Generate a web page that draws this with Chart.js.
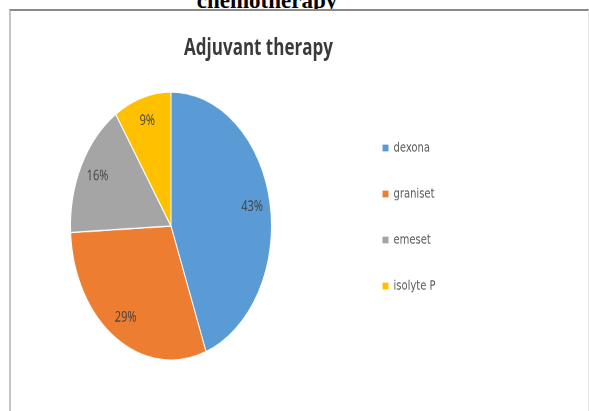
<!DOCTYPE html>
<html>
<head>
<meta charset="utf-8">
<script src="https://cdn.jsdelivr.net/npm/chart.js@4.4.0/dist/chart.umd.min.js"></script>
<style>
    html, body { margin: 0; padding: 0; background: #fff; }
    body { width: 589px; height: 411px; position: relative; overflow: hidden; }
    #heading {
        position: absolute; left: 0; top: -11px; width: 534px;
        text-align: center; font: bold 23px "Liberation Serif", serif;
        line-height: 23px; color: #000;
    }
    #box {
        position: absolute; left: 9px; top: 9px; width: 577px; height: 402px;
        border-top: 2px solid #8a8a8a; border-left: 2px solid #c4c4c4;
        border-right: 1px solid #e8e8e8; background: #fff; overflow: hidden;
    }
    /* the source picture is stretched vertically, so draw flat and scale */
    #stretch {
        position: absolute; left: 0; top: 0; width: 577px; height: 300px;
        transform: scale(1, 1.3333); transform-origin: 0 0;
    }
    #title {
        position: absolute; left: 0; top: 18px; width: 495px;
        text-align: center; font: bold 17px "Open Sans", sans-serif;
        line-height: 17px; color: #3a3a3a;
    }
    /* canvas starts a little left of the box so the pie sits where it should */
    #chartWrap { position: absolute; left: -27px; top: 0; width: 604px; height: 300px; }
</style>
</head>
<body>
<div id="heading">chemotherapy</div>
<div id="box">
    <div id="stretch">
        <div id="title">Adjuvant therapy</div>
        <div id="chartWrap"><canvas id="pieChart"></canvas></div>
    </div>
</div>
<script>
// Chart data
const categories = ['dexona', 'graniset', 'emeset', 'isolyte P'];
const shares = [43, 29, 16, 9];
const sliceColours = ['#5B9BD5', '#ED7D31', '#A5A5A5', '#FFC000'];

// Percent labels inside the slices
const sliceLabels = {
    id: 'sliceLabels',
    afterDatasetsDraw(chart) {
        const ctx = chart.ctx;
        const meta = chart.getDatasetMeta(0);
        ctx.save();
        ctx.font = '11px "Open Sans", sans-serif';
        ctx.fillStyle = '#404040';
        ctx.textAlign = 'center';
        ctx.textBaseline = 'middle';
        meta.data.forEach((arc, i) => {
            const p = arc.getProps(['x', 'y', 'startAngle', 'endAngle', 'outerRadius'], true);
            const mid = (p.startAngle + p.endAngle) / 2;
            const r = p.outerRadius * 0.82;
            ctx.fillText(shares[i] + '%', p.x + Math.cos(mid) * r, p.y + Math.sin(mid) * r);
        });
        ctx.restore();
    }
};

document.addEventListener('DOMContentLoaded', function() {
    const ctx = document.getElementById('pieChart').getContext('2d');
    new Chart(ctx, {
        type: 'pie',
        data: {
            labels: categories,
            datasets: [{
                data: shares,
                backgroundColor: sliceColours,
                borderColor: '#ffffff',
                borderWidth: 1,
                radius: 100.5,
                clip: false
            }]
        },
        options: {
            responsive: true,
            maintainAspectRatio: false,
            animation: false,
            devicePixelRatio: 2,
            layout: {
                padding: { left: 0, right: 150, top: 73.3, bottom: 50.7 }
            },
            plugins: {
                title: { display: false },
                tooltip: { enabled: false },
                legend: {
                    position: 'right',
                    align: 'start',
                    maxWidth: 80,
                    labels: {
                        boxWidth: 6,
                        boxHeight: 5,
                        padding: 24.5,
                        color: '#595959',
                        font: { family: 'DejaVu Sans', size: 10 },
                        generateLabels(chart) {
                            const base = Chart.overrides.pie.plugins.legend.labels.generateLabels(chart);
                            return base.map(item => Object.assign(item, { lineWidth: 0 }));
                        }
                    }
                }
            }
        },
        plugins: [sliceLabels]
    });
});
</script>
</body>
</html>
